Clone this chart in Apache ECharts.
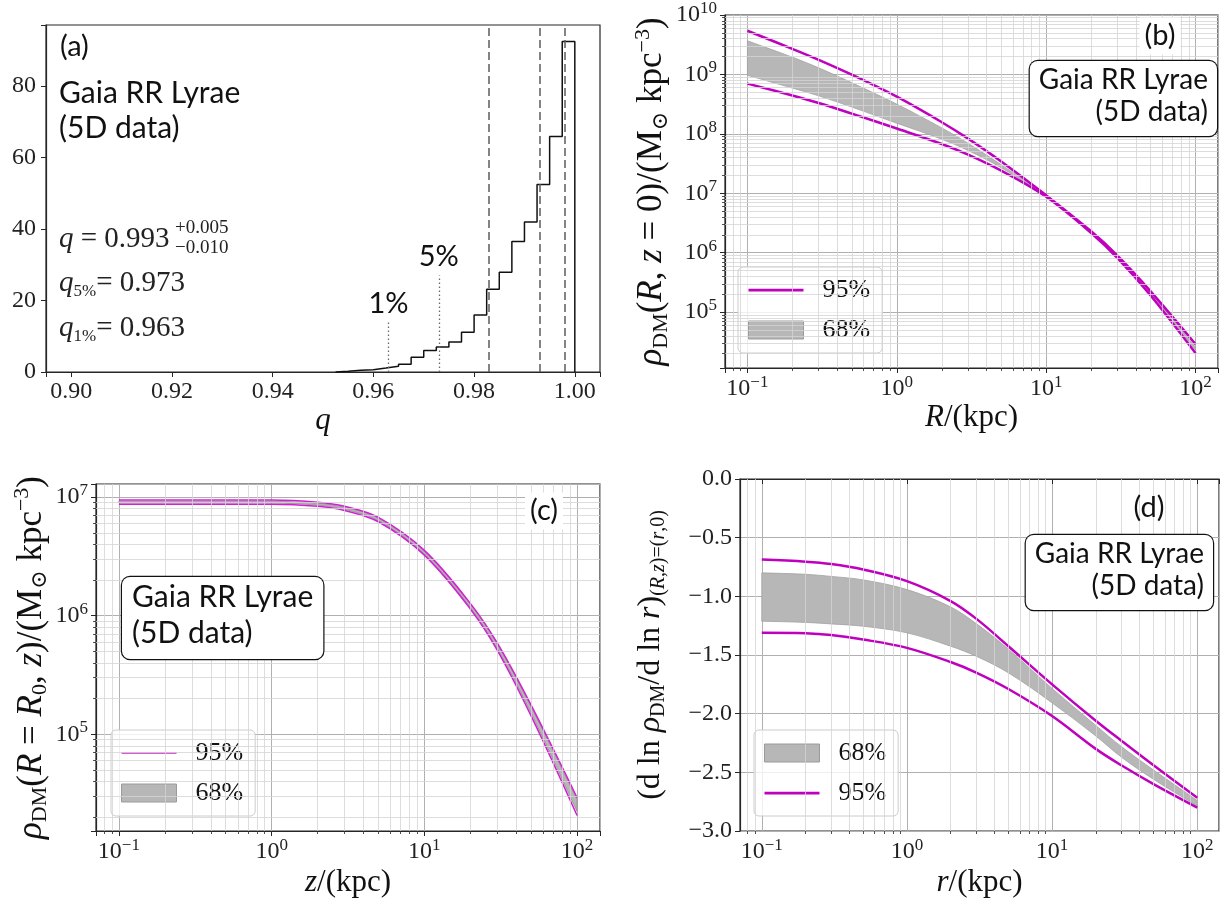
<!DOCTYPE html>
<html>
<head>
<meta charset="utf-8">
<script src="https://cdn.jsdelivr.net/npm/echarts@6.0.0/dist/echarts.min.js"></script>
<style>
  html, body { margin: 0; padding: 0; background: #fff; }
  #chart { width: 1228px; height: 907px; }
</style>
</head>
<body>
<div id="chart"></div>
<script>
const SERIF = "'Liberation Serif', 'DejaVu Serif', serif";
const SANS = "Lato, 'DejaVu Sans', sans-serif";
const MAG = '#bf00bf';
const MAG_THIN = '#d21fd2';
const BAND = '#b7b7b7';
const INK = '#111';

// (a) posterior of q: histogram (density)
const qEdges = [0.9525, 0.955, 0.9575, 0.96, 0.9625, 0.965, 0.9675, 0.97, 0.9725, 0.975,
  0.9775, 0.98, 0.9825, 0.985, 0.9875, 0.99, 0.9925, 0.995, 0.9975, 1.0];
const qDensity = [0.2, 0.5, 0.66, 1.1, 1.6, 2.2, 4.1, 6.0, 7.0, 8.4,
  11.1, 15.9, 23.1, 27.9, 36.5, 41.9, 52.4, 65.8, 92.4];
const qInterval = [0.983, 0.993, 0.998];
const qTail = [0.963, 0.973];
const qTailHeight = [14, 27];
const qTailLabel = ['1%', '5%'];

// radii / heights in kpc (shared by b, c, d)
const radii = [0.1, 0.2, 0.3, 0.5, 1, 2, 3, 5, 10, 20, 30, 50, 100];

// (b) rho_DM(R, z=0)
const rhoR95up = [5.43e9, 2.69e9, 1.76e9, 9.89e8, 4.22e8, 1.57e8, 8.32e7, 3.43e7, 9.23e6, 2.29e6, 8.91e5, 2.24e5, 2.88e4];
const rhoR95lo = [7.01e8, 4.42e8, 3.31e8, 2.19e8, 1.23e8, 6.76e7, 4.47e7, 2.40e7, 8.71e6, 2.14e6, 8.13e5, 1.91e5, 2.04e4];
const rhoR68up = [3.68e9, 1.95e9, 1.29e9, 7.24e8, 3.16e8, 1.26e8, 6.92e7, 3.02e7, 9.12e6, 2.24e6, 8.61e5, 2.14e5, 2.57e4];
const rhoR68lo = [9.68e8, 5.89e8, 4.37e8, 2.82e8, 1.51e8, 8.13e7, 5.25e7, 2.69e7, 8.91e6, 2.19e6, 8.41e5, 2.04e5, 2.29e4];

// (c) rho_DM(R=R0, z)
const rhoZ95up = [9.44e6, 9.44e6, 9.44e6, 9.44e6, 9.44e6, 9.06e6, 8.36e6, 6.73e6, 3.55e6, 1.27e6, 5.89e5, 1.76e5, 2.92e4];
const rhoZ95lo = [8.71e6, 8.71e6, 8.71e6, 8.71e6, 8.71e6, 8.36e6, 7.71e6, 6.19e6, 3.24e6, 1.14e6, 5.13e5, 1.43e5, 2.07e4];
const rhoZ68up = [9.23e6, 9.23e6, 9.23e6, 9.23e6, 9.23e6, 8.87e6, 8.18e6, 6.61e6, 3.47e6, 1.24e6, 5.75e5, 1.70e5, 2.82e4];
const rhoZ68lo = [8.91e6, 8.91e6, 8.91e6, 8.91e6, 8.91e6, 8.55e6, 7.89e6, 6.31e6, 3.31e6, 1.17e6, 5.31e5, 1.51e5, 2.24e4];

// (d) logarithmic slope along (r, 0)
const slope95up = [-0.687, -0.705, -0.725, -0.772, -0.871, -1.04, -1.19, -1.425, -1.75, -2.06, -2.23, -2.44, -2.716];
const slope95lo = [-1.311, -1.315, -1.33, -1.368, -1.439, -1.56, -1.65, -1.79, -2.02, -2.30, -2.44, -2.60, -2.80];
const slope68up = [-0.80, -0.812, -0.83, -0.86, -0.942, -1.09, -1.232, -1.45, -1.785, -2.10, -2.28, -2.48, -2.74];
const slope68lo = [-1.212, -1.222, -1.235, -1.255, -1.311, -1.425, -1.51, -1.652, -1.908, -2.19, -2.37, -2.56, -2.787];

const xLogMin = Math.pow(10, -1.15), xLogMax = Math.pow(10, 2.15);
const bYMin = Math.pow(10, 4.06), bYMax = 1e10;
const cYMin = Math.pow(10, 4.185), cYMax = Math.pow(10, 7.11);

const pairs = (xs, ys) => xs.map((x, i) => [x, ys[i]]);

function stepPoints(edges, h) {
  const pts = [[edges[0], 0]];
  h.forEach((v, i) => { pts.push([edges[i], v], [edges[i + 1], v]); });
  pts.push([edges[edges.length - 1], 0]);
  return pts;
}

// 2..9 x 10^d inside (lo, hi)
function minorValues(lo, hi) {
  const out = [];
  for (let d = Math.floor(Math.log10(lo)); d <= Math.ceil(Math.log10(hi)); d++) {
    for (let m = 2; m <= 9; m++) {
      const v = m * Math.pow(10, d);
      if (v > lo && v < hi) out.push(v);
    }
  }
  return out;
}

function powLabel(v) {
  const e = Math.log10(v);
  const r = Math.round(e);
  if (Math.abs(e - r) > 1e-6) return '';
  return '{b|10}{e|' + (r < 0 ? '\u2212' + (-r) : r) + '}';
}

const RICH_POW = {
  b: { fontFamily: SERIF, fontSize: 24, lineHeight: 30, color: '#222' },
  e: { fontFamily: SERIF, fontSize: 17, lineHeight: 16, verticalAlign: 'top', color: '#222' }
};

const RICH_NAME = {
  n: { fontFamily: SERIF, fontSize: 31, lineHeight: 36, color: INK },
  i: { fontFamily: SERIF, fontStyle: 'italic', fontSize: 31, lineHeight: 36, color: INK }
};

function yNameRich(size) {
  const s = Math.round(size * 0.64);
  return {
    n: { fontFamily: SERIF, fontSize: size, lineHeight: size + 5, color: INK },
    i: { fontFamily: SERIF, fontStyle: 'italic', fontSize: size, lineHeight: size + 5, color: INK },
    sub: { fontFamily: SERIF, fontSize: s, lineHeight: s - 2, verticalAlign: 'bottom', color: INK },
    subi: { fontFamily: SERIF, fontStyle: 'italic', fontSize: s, lineHeight: s - 2, verticalAlign: 'bottom', color: INK },
    sup: { fontFamily: SERIF, fontSize: s, lineHeight: s - 2, verticalAlign: 'top', color: INK }
  };
}

const axisLine = { show: true, lineStyle: { color: '#262626', width: 1.2 } };
const axisTick = { show: true, inside: false, length: 5, lineStyle: { color: '#262626' } };
const majorGrid = { show: true, lineStyle: { color: '#b0b0b0', width: 1 } };

function logAxis(grid, min, max, extra) {
  return Object.assign({
    type: 'log', logBase: 10, gridIndex: grid, min: min, max: max,
    axisLine: axisLine, axisTick: axisTick, splitLine: majorGrid,
    axisLabel: { formatter: powLabel, rich: RICH_POW, margin: 6 }
  }, extra);
}

// overlay log axis that only carries the short minor ticks
function minorTickAxis(grid, min, max, position) {
  return {
    type: 'log', logBase: 10, gridIndex: grid, min: min, max: max, position: position, offset: 0,
    axisLine: { show: false, onZero: false }, splitLine: { show: false }, axisLabel: { show: false },
    axisTick: { show: true, length: 3, customValues: minorValues(min, max), lineStyle: { color: '#262626', width: 0.8 } }
  };
}

// 68% band: one filled polygon between the two bounds, placed with the axes
function bandSeries(tag, ax, xs, hi, lo, edge) {
  return {
    name: tag + '68', type: 'custom', xAxisIndex: ax, yAxisIndex: ax, z: 2,
    itemStyle: { color: BAND, borderColor: edge, borderWidth: 0.8 },
    encode: { x: 0, y: [1, 2] },
    data: xs.map((x, i) => [x, lo[i], hi[i]]),
    renderItem: (params, api) => {
      if (params.dataIndex !== 0) return null;
      const top = xs.map((x, i) => api.coord([x, hi[i]]));
      const bot = xs.map((x, i) => api.coord([x, lo[i]])).reverse();
      const n = top.length;
      const pts = [top[0]].concat(top, [top[n - 1], bot[0]], bot, [bot[n - 1]]);
      return {
        type: 'polygon', shape: { points: pts, smooth: 0.35 },
        style: { fill: BAND, stroke: edge, lineWidth: 0.8 }
      };
    }
  };
}

function lineSeries(tag, ax, xs, ys, color, width) {
  return {
    name: tag + '95', type: 'line', xAxisIndex: ax, yAxisIndex: ax,
    data: pairs(xs, ys), smooth: 0.35, showSymbol: false, symbol: 'none', z: 3,
    itemStyle: { color: color }, lineStyle: { color: color, width: width }
  };
}

function gridSeries(ax, xLo, xHi, yLo, yHi) {
  const data = minorValues(xLo, xHi).map(v => ({ xAxis: v }));
  if (yLo != null) data.push(...minorValues(yLo, yHi).map(v => ({ yAxis: v })));
  return {
    name: 'minor' + ax, type: 'line', xAxisIndex: ax, yAxisIndex: ax, data: [], z: 1,
    markLine: {
      silent: true, symbol: ['none', 'none'], precision: 6, animation: false,
      label: { show: false }, emphasis: { disabled: true },
      lineStyle: { type: 'solid', color: '#d4d4d4', width: 0.8 },
      data: data
    }
  };
}

const THICK_ICON = 'path://M0,0H40V2H0Z';
const THIN_ICON = 'path://M0,0H40V1.2H0Z';

function legendFor(tag, left, top, order, icon) {
  const items = {
    '95': { name: tag + '95', icon: icon, itemStyle: { borderWidth: 0 } },
    '68': { name: tag + '68', icon: 'rect', itemStyle: { borderColor: '#9a9a9a', borderWidth: 1 } }
  };
  return {
    left: left, top: top, orient: 'vertical', selectedMode: false,
    data: order.map(k => items[k]),
    itemWidth: 55, itemHeight: 18, itemGap: 14,
    padding: [10, 12, 10, 10],
    backgroundColor: 'rgba(255,255,255,0.8)', borderColor: '#cccccc', borderWidth: 1, borderRadius: 5,
    textStyle: { fontFamily: SERIF, fontSize: 26, color: INK, padding: [0, 0, 0, 14] },
    formatter: n => n.slice(1) + '%'
  };
}

function gaiaBox(x, y, size, lh, align, pad) {
  return {
    type: 'text', x: x, y: y, z: 100,
    style: {
      text: 'Gaia RR Lyrae\n(5D data)', font: size + 'px ' + SANS, lineHeight: lh,
      align: align, verticalAlign: 'top', fill: INK,
      backgroundColor: '#fff', borderColor: INK, borderWidth: 1.2, borderRadius: 8, padding: pad
    }
  };
}

function panelTag(text, x, y) {
  return {
    type: 'text', x: x, y: y, z: 100,
    style: {
      text: text, font: '29px ' + SANS, align: 'center', verticalAlign: 'middle', fill: INK,
      backgroundColor: '#fff', padding: [4, 5]
    }
  };
}

const RICH_Q = {
  i: { fontFamily: SERIF, fontStyle: 'italic', fontSize: 29, lineHeight: 34, fill: '#222' },
  n: { fontFamily: SERIF, fontSize: 29, lineHeight: 34, fill: '#222' },
  s: { fontFamily: SERIF, fontSize: 17, lineHeight: 16, verticalAlign: 'bottom', fill: '#222' }
};

const chart = echarts.init(document.getElementById('chart'));

const option = {
  animation: false,
  backgroundColor: '#fff',
  textStyle: { fontFamily: SERIF },
  grid: [
    { left: 46, top: 25, width: 554, height: 347, show: true, borderColor: '#262626', borderWidth: 1.2 },
    { left: 725, top: 15, width: 493, height: 353, show: true, borderColor: '#262626', borderWidth: 1.2 },
    { left: 96, top: 484, width: 504, height: 347, show: true, borderColor: '#262626', borderWidth: 1.2 },
    { left: 740, top: 479, width: 479, height: 352, show: true, borderColor: '#262626', borderWidth: 1.2 }
  ],
  xAxis: [
    {
      type: 'value', gridIndex: 0, min: 0.895, max: 1.005, splitNumber: 5,
      axisLine: axisLine, axisTick: axisTick, splitLine: { show: false },
      axisLabel: {
        margin: 8, fontFamily: SERIF, fontSize: 24, color: '#222',
        formatter: v => {
          const k = Math.round(v / 0.02);
          return Math.abs(v - k * 0.02) > 1e-6 ? '' : v.toFixed(2);
        }
      },
      name: 'q', nameLocation: 'middle', nameGap: 17,
      nameTextStyle: { fontFamily: SERIF, fontStyle: 'italic', fontSize: 31, color: INK }
    },
    logAxis(1, xLogMin, xLogMax, {
      position: 'bottom',
      name: '{i|R}{n|/(kpc)}', nameLocation: 'middle', nameGap: 23, nameTextStyle: { rich: RICH_NAME }
    }),
    logAxis(2, xLogMin, xLogMax, {
      position: 'bottom',
      name: '{i|z}{n|/(kpc)}', nameLocation: 'middle', nameGap: 34, nameTextStyle: { rich: RICH_NAME }
    }),
    logAxis(3, xLogMin, xLogMax, {
      position: 'bottom',
      name: '{i|r}{n|/(kpc)}', nameLocation: 'middle', nameGap: 34, nameTextStyle: { rich: RICH_NAME }
    }),
    minorTickAxis(1, xLogMin, xLogMax, 'bottom'),
    minorTickAxis(2, xLogMin, xLogMax, 'bottom'),
    minorTickAxis(3, xLogMin, xLogMax, 'bottom')
  ],
  yAxis: [
    {
      type: 'value', gridIndex: 0, min: 0, max: 97,
      axisLine: axisLine, axisTick: axisTick, splitLine: { show: false },
      axisLabel: {
        margin: 10, fontFamily: SERIF, fontSize: 24, color: '#222',
        formatter: v => (Math.abs(v % 20) < 1e-6 ? String(v) : '')
      }
    },
    logAxis(1, bYMin, bYMax, {
      position: 'left',
      name: '{i|ρ}{sub|DM}{n|(}{i|R}{n|, }{i|z}{n| = 0)/(M}{sub|⊙}{n| kpc}{sup|−3}{n|)}',
      nameLocation: 'middle', nameRotate: 90, nameGap: 52, nameTextStyle: { rich: yNameRich(35) },
      axisLabel: { formatter: powLabel, rich: RICH_POW, margin: 8 }
    }),
    logAxis(2, cYMin, cYMax, {
      position: 'left',
      name: '{i|ρ}{sub|DM}{n|(}{i|R}{n| = }{i|R}{sub|0}{n|, }{i|z}{n|)/(M}{sub|⊙}{n| kpc}{sup|−3}{n|)}',
      nameLocation: 'middle', nameRotate: 90, nameGap: 40, nameTextStyle: { rich: yNameRich(35) },
      axisLabel: { formatter: powLabel, rich: RICH_POW, margin: 8 }
    }),
    {
      type: 'value', gridIndex: 3, min: -3, max: 0, interval: 0.5, position: 'left',
      axisLine: axisLine, axisTick: axisTick, splitLine: majorGrid,
      axisLabel: {
        margin: 8, fontFamily: SERIF, fontSize: 24, color: '#222',
        formatter: v => v.toFixed(1).replace('-', '\u2212')
      },
      name: '{n|(d ln }{i|ρ}{sub|DM}{n|/d ln }{i|r}{n|)}{sub|(}{subi|R}{sub|,}{subi|z}{sub|)=(}{subi|r}{sub|,0)}',
      nameLocation: 'middle', nameRotate: 90, nameGap: 71, nameTextStyle: { rich: yNameRich(32) }
    },
    minorTickAxis(1, bYMin, bYMax, 'left'),
    minorTickAxis(2, cYMin, cYMax, 'left')
  ],
  legend: [
    legendFor('b', 738, 267, ['95', '68'], THICK_ICON),
    legendFor('c', 111, 730, ['95', '68'], THIN_ICON),
    legendFor('d', 754, 730, ['68', '95'], THICK_ICON)
  ],
  series: [
    {
      name: 'hist', type: 'line', xAxisIndex: 0, yAxisIndex: 0,
      data: stepPoints(qEdges, qDensity), showSymbol: false, symbol: 'none',
      lineStyle: { color: INK, width: 1.5 },
      markLine: {
        silent: true, symbol: ['none', 'none'], precision: 6, animation: false,
        emphasis: { disabled: true },
        label: { show: false },
        data: qInterval.map(v => ({ xAxis: v, lineStyle: { type: [8, 4], color: '#5c5c5c', width: 1.5 } }))
          .concat(qTail.map((v, i) => [
            {
              coord: [v, 0], lineStyle: { type: [1.5, 2.5], color: '#6a6a6a', width: 1.3 },
              label: { show: true, position: 'end', distance: 4, formatter: qTailLabel[i], fontFamily: SANS, fontSize: 29, color: INK }
            },
            { coord: [v, qTailHeight[i]] }
          ]))
      }
    },
    gridSeries(1, xLogMin, xLogMax, bYMin, bYMax),
    bandSeries('b', 1, radii, rhoR68up, rhoR68lo, '#a2a2a2'),
    lineSeries('b', 1, radii, rhoR95up, MAG, 2.5),
    lineSeries('b', 1, radii, rhoR95lo, MAG, 2.5),
    gridSeries(2, xLogMin, xLogMax, cYMin, cYMax),
    bandSeries('c', 2, radii, rhoZ68up, rhoZ68lo, '#8c8c8c'),
    lineSeries('c', 2, radii, rhoZ95up, MAG_THIN, 1.5),
    lineSeries('c', 2, radii, rhoZ95lo, MAG_THIN, 1.5),
    gridSeries(3, xLogMin, xLogMax, null, null),
    bandSeries('d', 3, radii, slope68up, slope68lo, '#a2a2a2'),
    lineSeries('d', 3, radii, slope95up, MAG, 2.5),
    lineSeries('d', 3, radii, slope95lo, MAG, 2.5)
  ],
  graphic: [
    { type: 'text', x: 60, y: 47, z: 100, style: { text: '(a)', font: '29px ' + SANS, align: 'left', verticalAlign: 'middle', fill: INK } },
    { type: 'text', x: 59, y: 76, z: 100, style: { text: 'Gaia RR Lyrae\n(5D data)', font: '30px ' + SANS, lineHeight: 35, align: 'left', verticalAlign: 'top', fill: INK } },
    { type: 'text', x: 59, y: 239, z: 100, style: { text: '{i|q}{n| = 0.993}', rich: RICH_Q, align: 'left', verticalAlign: 'middle' } },
    { type: 'text', x: 175, y: 228, z: 100, style: { text: '+0.005', font: '19px ' + SERIF, align: 'left', verticalAlign: 'middle', fill: '#222' } },
    { type: 'text', x: 175, y: 248, z: 100, style: { text: '\u22120.010', font: '19px ' + SERIF, align: 'left', verticalAlign: 'middle', fill: '#222' } },
    { type: 'text', x: 59, y: 283, z: 100, style: { text: '{i|q}{s|5%}{n|= 0.973}', rich: RICH_Q, align: 'left', verticalAlign: 'middle' } },
    { type: 'text', x: 59, y: 328, z: 100, style: { text: '{i|q}{s|1%}{n|= 0.963}', rich: RICH_Q, align: 'left', verticalAlign: 'middle' } },
    panelTag('(b)', 1160, 36),
    gaiaBox(1217, 61, 28, 32, 'right', [3, 9, 8, 9]),
    panelTag('(c)', 544, 511),
    gaiaBox(122, 577, 30, 36, 'left', [2, 10, 8, 10]),
    { type: 'text', x: 1149, y: 508, z: 100, style: { text: '(d)', font: '29px ' + SANS, align: 'center', verticalAlign: 'middle', fill: INK } },
    gaiaBox(1213, 535, 28, 32, 'right', [3, 9, 8, 9])
  ]
};

chart.setOption(option);
</script>
</body>
</html>
